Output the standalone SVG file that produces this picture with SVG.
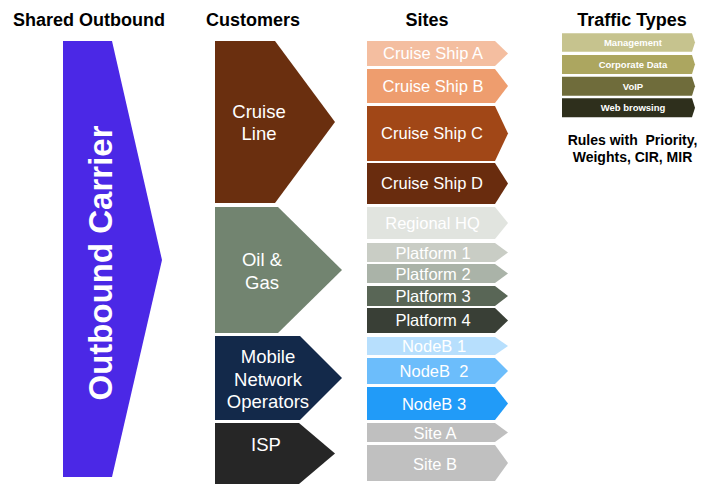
<svg xmlns="http://www.w3.org/2000/svg" width="705" height="485" viewBox="0 0 705 485">
  <style>
    .hdr { font-family: "Liberation Sans", Arial, sans-serif; font-weight: bold; font-size: 18px; fill: #000; }
    .cust { font-family: "Liberation Sans", Arial, sans-serif; font-size: 18.5px; fill: #fff; text-anchor: middle; }
    .site { font-family: "Liberation Sans", Arial, sans-serif; font-size: 16.5px; fill: #fff; text-anchor: middle; white-space: pre; }
    .tt { font-family: "Liberation Sans", Arial, sans-serif; font-weight: bold; font-size: 9.5px; fill: #fff; text-anchor: middle; }
    .rules { font-family: "Liberation Sans", Arial, sans-serif; font-weight: bold; font-size: 14px; fill: #000; text-anchor: middle; white-space: pre; }
    .carrier { font-family: "Liberation Sans", Arial, sans-serif; font-weight: bold; font-size: 33px; fill: #fff; text-anchor: middle; }
  </style>

  <!-- column headings -->
  <g id="headings">
    <text class="hdr" x="13" y="26">Shared Outbound</text>
    <text class="hdr" x="206" y="26">Customers</text>
    <text class="hdr" x="427" y="26" text-anchor="middle">Sites</text>
    <text class="hdr" x="632" y="26" text-anchor="middle">Traffic Types</text>
  </g>

  <!-- shared outbound carrier -->
  <g id="outbound-carrier">
    <polygon points="63,41 112,41 162,260 112,477 63,477" fill="#4B28E6"/>
    <text class="carrier" transform="translate(112,263) rotate(-90)">Outbound Carrier</text>
  </g>

  <!-- customers -->
  <g id="customer-cruise-line">
    <polygon points="215,41 275,41 335,122 275,203 215,203" fill="#6A2F0F"/>
    <text class="cust" x="259" y="118">Cruise</text>
    <text class="cust" x="259" y="140">Line</text>
  </g>
  <g id="customer-oil-gas">
    <polygon points="215,207 278,207 342,270 278,333 215,333" fill="#728470"/>
    <text class="cust" x="262" y="266">Oil &amp;</text>
    <text class="cust" x="262" y="289">Gas</text>
  </g>
  <g id="customer-mno">
    <polygon points="215,336 300,336 342,378 300,420 215,420" fill="#13294A"/>
    <text class="cust" x="268" y="363">Mobile</text>
    <text class="cust" x="268" y="386">Network</text>
    <text class="cust" x="268" y="408">Operators</text>
  </g>
  <g id="customer-isp">
    <polygon points="215,423 299,423 335,453.5 299,484 215,484" fill="#262626"/>
    <text class="cust" x="266" y="451">ISP</text>
  </g>

  <!-- sites -->
  <g id="site-cruise-ship-a">
    <polygon points="367,41 495,41 508,53.5 495,66 367,66" fill="#F4BEA0"/>
    <text class="site" x="433" y="59.3">Cruise Ship A</text>
  </g>
  <g id="site-cruise-ship-b">
    <polygon points="367,69 495,69 508,86 495,103 367,103" fill="#EE9D6E"/>
    <text class="site" x="433" y="91.7">Cruise Ship B</text>
  </g>
  <g id="site-cruise-ship-c">
    <polygon points="367,106 495,106 508,133.5 495,161 367,161" fill="#A14717"/>
    <text class="site" x="432" y="139.3">Cruise Ship C</text>
  </g>
  <g id="site-cruise-ship-d">
    <polygon points="367,163 495,163 508,183.5 495,204 367,204" fill="#692C0E"/>
    <text class="site" x="432" y="189.3">Cruise Ship D</text>
  </g>
  <g id="site-regional-hq">
    <polygon points="367,207 495,207 508,223 495,239 367,239" fill="#E1E4DF"/>
    <text class="site" x="432.5" y="229">Regional HQ</text>
  </g>
  <g id="site-platform-1">
    <polygon points="367,243 495,243 508,252.5 495,262 367,262" fill="#C9CDC5"/>
    <text class="site" x="433" y="258.5">Platform 1</text>
  </g>
  <g id="site-platform-2">
    <polygon points="367,264 495,264 508,273.5 495,283 367,283" fill="#AAB3A8"/>
    <text class="site" x="433" y="280">Platform 2</text>
  </g>
  <g id="site-platform-3">
    <polygon points="367,286 495,286 508,296 495,306 367,306" fill="#596656"/>
    <text class="site" x="433" y="301.8">Platform 3</text>
  </g>
  <g id="site-platform-4">
    <polygon points="367,308 495,308 508,320.5 495,333 367,333" fill="#393F36"/>
    <text class="site" x="433" y="326">Platform 4</text>
  </g>
  <g id="site-nodeb-1">
    <polygon points="367,337 495,337 508,346 495,355 367,355" fill="#B7DFFD"/>
    <text class="site" x="434" y="352.2">NodeB 1</text>
  </g>
  <g id="site-nodeb-2">
    <polygon points="367,358 495,358 508,371 495,384 367,384" fill="#6CBDFB"/>
    <text class="site" x="434" y="376.8">NodeB  2</text>
  </g>
  <g id="site-nodeb-3">
    <polygon points="367,387 495,387 508,403.5 495,420 367,420" fill="#219BF8"/>
    <text class="site" x="434" y="409.5">NodeB 3</text>
  </g>
  <g id="site-a">
    <polygon points="367,423 495,423 508,432.5 495,442 367,442" fill="#BFBFBF"/>
    <text class="site" x="435" y="438.5">Site A</text>
  </g>
  <g id="site-b">
    <polygon points="367,445 495,445 508,463 495,481 367,481" fill="#C0C0C0"/>
    <text class="site" x="435" y="469.5">Site B</text>
  </g>

  <!-- traffic types -->
  <g id="traffic-management">
    <polygon points="562,33.3 692,33.3 695,42.5 692,51.7 562,51.7" fill="#C6C38E"/>
    <text class="tt" x="633" y="46">Management</text>
  </g>
  <g id="traffic-corporate-data">
    <polygon points="562,55 692,55 695,64.5 692,74 562,74" fill="#ACA660"/>
    <text class="tt" x="633" y="68">Corporate Data</text>
  </g>
  <g id="traffic-voip">
    <polygon points="562,76.7 692,76.7 695,86.2 692,95.7 562,95.7" fill="#6F6C3B"/>
    <text class="tt" x="633" y="89.5">VoIP</text>
  </g>
  <g id="traffic-web-browsing">
    <polygon points="562,98.3 692,98.3 695,107.8 692,117.3 562,117.3" fill="#2E2F1C"/>
    <text class="tt" x="633" y="111">Web browsing</text>
  </g>

  <g id="rules-note">
    <text class="rules" x="632.5" y="145">Rules with  Priority,</text>
    <text class="rules" x="632.5" y="162">Weights, CIR, MIR</text>
  </g>
</svg>
